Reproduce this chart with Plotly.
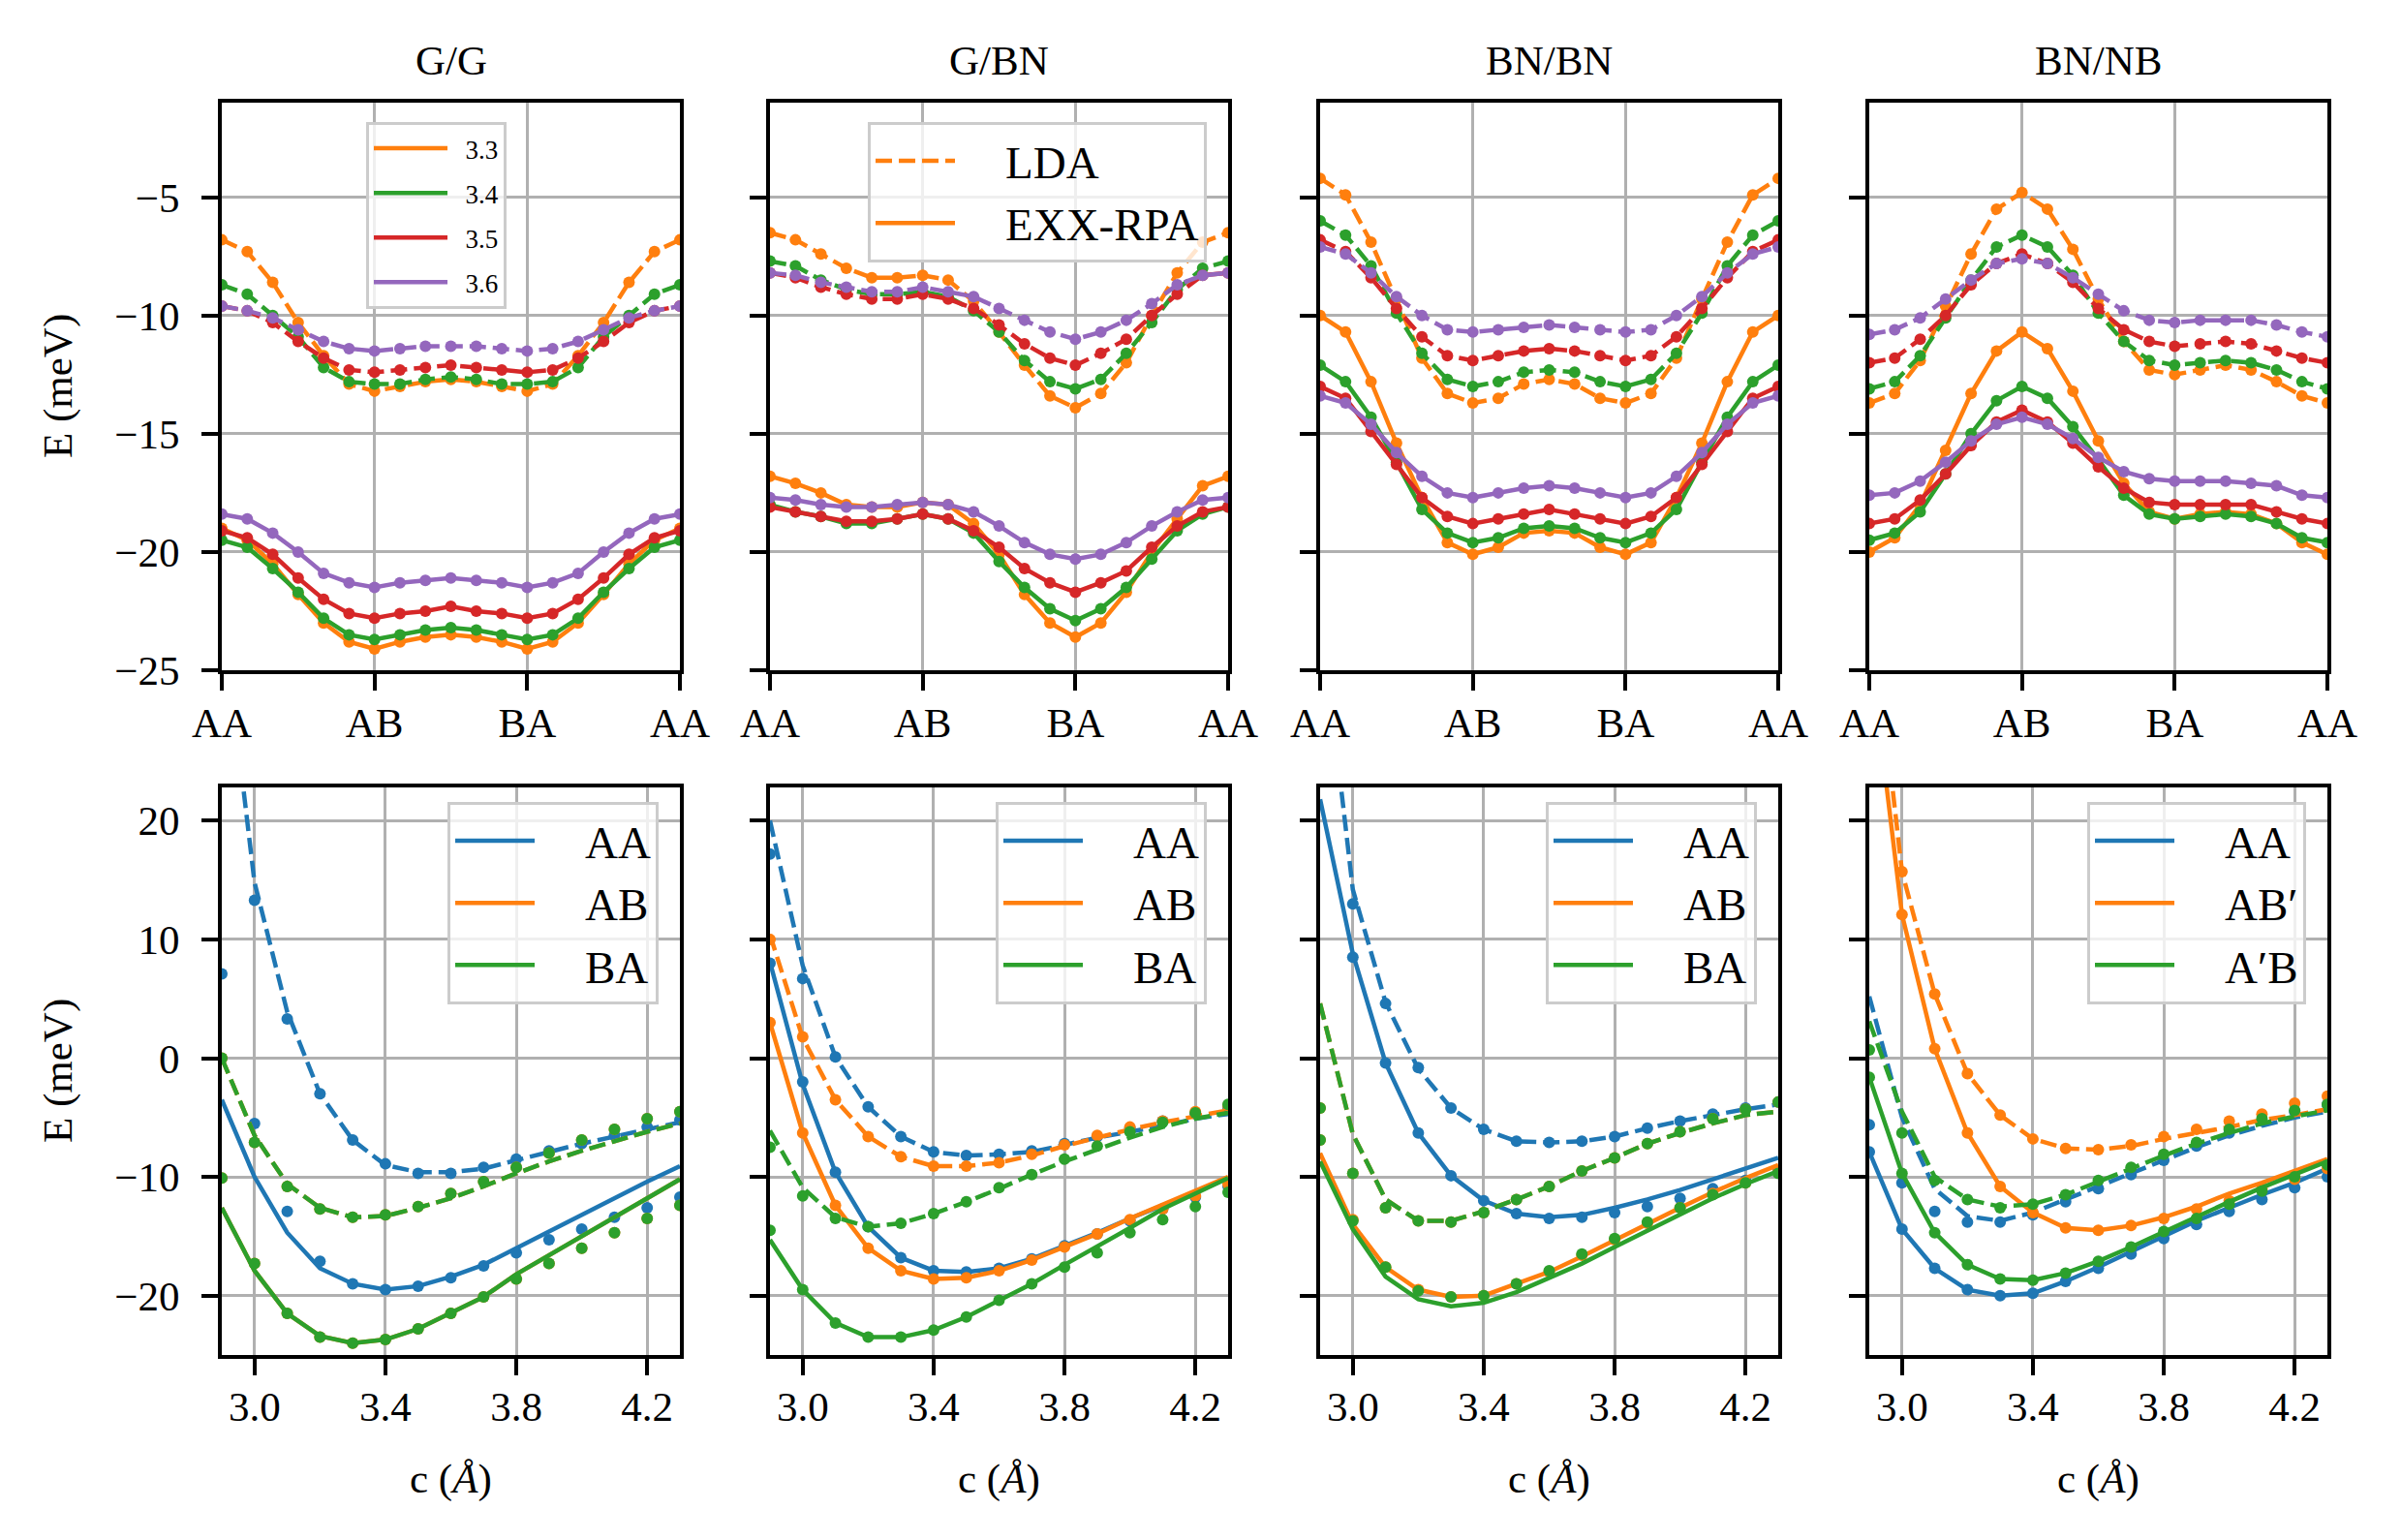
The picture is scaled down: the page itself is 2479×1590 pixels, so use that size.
import plotly.graph_objects as go

# ---------------- data ----------------
path_x = list(range(19))
path_tickvals = [0, 6, 12, 18]
path_ticktext = ["AA", "AB", "BA", "AA"]
c_vals = [2.9, 3.0, 3.1, 3.2, 3.3, 3.4, 3.5, 3.6, 3.7, 3.8, 3.9, 4.0, 4.1, 4.2, 4.3]
c_labels = ["3.3", "3.4", "3.5", "3.6"]
panel_titles = ["G/G", "G/BN", "BN/BN", "BN/NB"]

# top row: G/G
GG_LDA_33 = [-6.8,-7.3,-8.6,-10.3,-11.7,-12.9,-13.2,-13.0,-12.8,-12.7,-12.8,-13.0,-13.2,-12.9,-11.7,-10.3,-8.6,-7.3,-6.8]
GG_LDA_34 = [-8.7,-9.1,-10.0,-10.9,-12.2,-12.8,-12.9,-12.9,-12.7,-12.6,-12.7,-12.9,-12.9,-12.8,-12.2,-10.9,-10.0,-9.1,-8.7]
GG_LDA_35 = [-9.6,-9.8,-10.3,-11.1,-11.8,-12.3,-12.4,-12.3,-12.2,-12.1,-12.2,-12.3,-12.4,-12.3,-11.8,-11.1,-10.3,-9.8,-9.6]
GG_LDA_36 = [-9.6,-9.8,-10.1,-10.6,-11.1,-11.4,-11.5,-11.4,-11.3,-11.3,-11.3,-11.4,-11.5,-11.4,-11.1,-10.6,-10.1,-9.8,-9.6]
GG_RPA_33 = [-19.0,-19.5,-20.5,-21.8,-23.0,-23.8,-24.1,-23.8,-23.6,-23.5,-23.6,-23.8,-24.1,-23.8,-23.0,-21.8,-20.5,-19.5,-19.0]
GG_RPA_34 = [-19.5,-19.8,-20.7,-21.7,-22.8,-23.5,-23.7,-23.5,-23.3,-23.2,-23.3,-23.5,-23.7,-23.5,-22.8,-21.7,-20.7,-19.8,-19.5]
GG_RPA_35 = [-19.1,-19.4,-20.1,-21.1,-22.0,-22.6,-22.8,-22.6,-22.5,-22.3,-22.5,-22.6,-22.8,-22.6,-22.0,-21.1,-20.1,-19.4,-19.1]
GG_RPA_36 = [-18.4,-18.6,-19.2,-20.0,-20.9,-21.3,-21.5,-21.3,-21.2,-21.1,-21.2,-21.3,-21.5,-21.3,-20.9,-20.0,-19.2,-18.6,-18.4]

# top row: G/BN
GBN_LDA_33 = [-6.5,-6.8,-7.4,-8.0,-8.4,-8.4,-8.3,-8.5,-9.4,-10.7,-12.1,-13.4,-13.9,-13.3,-12.0,-10.0,-8.2,-6.9,-6.5]
GBN_LDA_34 = [-7.7,-7.9,-8.5,-8.9,-9.1,-9.1,-9.0,-9.2,-9.8,-10.7,-11.9,-12.8,-13.1,-12.7,-11.6,-10.3,-8.9,-8.0,-7.7]
GBN_LDA_35 = [-8.2,-8.4,-8.8,-9.1,-9.3,-9.3,-9.1,-9.3,-9.7,-10.4,-11.2,-11.8,-12.1,-11.6,-11.0,-10.0,-9.1,-8.3,-8.2]
GBN_LDA_36 = [-8.2,-8.3,-8.6,-8.8,-9.0,-9.0,-8.8,-9.0,-9.2,-9.7,-10.2,-10.7,-11.0,-10.7,-10.2,-9.5,-8.7,-8.3,-8.2]
GBN_RPA_33 = [-16.8,-17.1,-17.5,-18.0,-18.1,-18.1,-17.9,-18.0,-18.8,-20.1,-21.8,-23.0,-23.6,-23.0,-21.7,-20.0,-18.6,-17.2,-16.8]
GBN_RPA_34 = [-18.0,-18.3,-18.5,-18.8,-18.8,-18.6,-18.4,-18.6,-19.2,-20.4,-21.5,-22.4,-22.9,-22.4,-21.5,-20.3,-19.1,-18.4,-18.1]
GBN_RPA_35 = [-18.1,-18.3,-18.5,-18.7,-18.7,-18.6,-18.4,-18.6,-19.1,-19.8,-20.7,-21.3,-21.7,-21.3,-20.8,-19.8,-18.9,-18.3,-18.1]
GBN_RPA_36 = [-17.7,-17.8,-18.0,-18.1,-18.1,-18.0,-17.9,-18.0,-18.3,-18.9,-19.6,-20.1,-20.3,-20.1,-19.6,-18.9,-18.3,-17.8,-17.7]

# top row: BN/BN
BB_LDA_33 = [-4.2,-4.9,-6.9,-9.3,-11.8,-13.3,-13.7,-13.5,-12.9,-12.7,-12.9,-13.5,-13.7,-13.3,-11.8,-9.3,-6.9,-4.9,-4.2]
BB_LDA_34 = [-6.0,-6.6,-7.9,-9.9,-11.6,-12.7,-13.0,-12.8,-12.4,-12.3,-12.4,-12.8,-13.0,-12.7,-11.6,-9.9,-7.9,-6.6,-6.0]
BB_LDA_35 = [-6.8,-7.3,-8.4,-9.7,-10.9,-11.7,-11.9,-11.7,-11.5,-11.4,-11.5,-11.7,-11.9,-11.7,-10.9,-9.7,-8.4,-7.3,-6.8]
BB_LDA_36 = [-7.1,-7.4,-8.2,-9.2,-10.0,-10.6,-10.7,-10.6,-10.5,-10.4,-10.5,-10.6,-10.7,-10.6,-10.0,-9.2,-8.2,-7.4,-7.1]
BB_RPA_33 = [-10.0,-10.7,-12.8,-15.4,-17.7,-19.6,-20.1,-19.8,-19.2,-19.1,-19.2,-19.8,-20.1,-19.6,-17.7,-15.4,-12.8,-10.7,-10.0]
BB_RPA_34 = [-12.1,-12.8,-14.3,-16.2,-18.2,-19.2,-19.6,-19.4,-19.0,-18.9,-19.0,-19.4,-19.6,-19.2,-18.2,-16.2,-14.3,-12.8,-12.1]
BB_RPA_35 = [-13.0,-13.5,-14.9,-16.3,-17.7,-18.5,-18.8,-18.6,-18.4,-18.2,-18.4,-18.6,-18.8,-18.5,-17.7,-16.3,-14.9,-13.5,-13.0]
BB_RPA_36 = [-13.4,-13.7,-14.6,-15.8,-16.8,-17.5,-17.7,-17.5,-17.3,-17.2,-17.3,-17.5,-17.7,-17.5,-16.8,-15.8,-14.6,-13.7,-13.4]

# top row: BN/NB
BNB_LDA_33 = [-13.7,-13.3,-11.9,-9.6,-7.4,-5.5,-4.8,-5.5,-7.2,-9.3,-11.1,-12.3,-12.5,-12.3,-12.1,-12.3,-12.8,-13.4,-13.7]
BNB_LDA_34 = [-13.1,-12.8,-11.7,-10.1,-8.5,-7.1,-6.6,-7.1,-8.3,-9.9,-11.1,-11.9,-12.1,-12.0,-11.9,-12.0,-12.3,-12.8,-13.1]
BNB_LDA_35 = [-12.0,-11.8,-11.0,-10.0,-8.7,-7.8,-7.4,-7.8,-8.6,-9.7,-10.6,-11.1,-11.3,-11.2,-11.1,-11.2,-11.5,-11.8,-12.0]
BNB_LDA_36 = [-10.8,-10.6,-10.1,-9.3,-8.5,-7.8,-7.6,-7.8,-8.4,-9.1,-9.8,-10.2,-10.3,-10.2,-10.2,-10.2,-10.4,-10.7,-10.9]
BNB_RPA_33 = [-20.0,-19.4,-18.0,-15.7,-13.3,-11.5,-10.7,-11.4,-13.2,-15.3,-17.1,-18.3,-18.6,-18.4,-18.3,-18.4,-18.8,-19.6,-20.1]
BNB_RPA_34 = [-19.5,-19.2,-18.3,-16.7,-15.0,-13.6,-13.0,-13.5,-14.7,-16.1,-17.6,-18.4,-18.6,-18.5,-18.4,-18.5,-18.8,-19.4,-19.6]
BNB_RPA_35 = [-18.8,-18.6,-17.8,-16.7,-15.5,-14.5,-14.0,-14.5,-15.4,-16.4,-17.3,-17.9,-18.0,-18.0,-18.0,-18.0,-18.3,-18.6,-18.8]
BNB_RPA_36 = [-17.6,-17.5,-17.0,-16.2,-15.3,-14.6,-14.3,-14.6,-15.2,-16.0,-16.6,-16.9,-17.0,-17.0,-17.0,-17.1,-17.2,-17.6,-17.7]

# bottom row: G/G  (AB identical to BA)
GG_AA_LDA_line = [38.0, 14.8, 3.9, -3.0, -6.9, -9.0, -9.6, -9.6, -9.3, -8.6, -7.9, -7.2, -6.6, -6.0, -5.4]
GG_AA_LDA_dots = [45.0, 13.3, 3.3, -3.0, -6.9, -8.9, -9.7, -9.7, -9.2, -8.5, -7.8, -7.2, -6.5, -5.8, -5.2]
GG_BA_LDA_line = [0.0, -6.5, -10.6, -12.6, -13.4, -13.3, -12.6, -11.8, -10.8, -9.7, -8.7, -7.8, -7.0, -6.2, -5.5]
GG_BA_LDA_dots = [0.0, -7.1, -10.8, -12.7, -13.4, -13.2, -12.5, -11.4, -10.4, -9.2, -8.0, -6.9, -6.0, -5.1, -4.5]
GG_AA_RPA_line = [-3.5, -10.0, -14.7, -17.7, -19.0, -19.5, -19.2, -18.4, -17.4, -16.0, -14.5, -13.1, -11.7, -10.4, -9.1]
GG_AA_RPA_dots = [7.1, -5.5, -12.9, -17.1, -19.0, -19.5, -19.2, -18.5, -17.5, -16.4, -15.3, -14.4, -13.4, -12.6, -11.7]
GG_BA_RPA_line = [-12.6, -17.9, -21.5, -23.4, -24.0, -23.7, -22.8, -21.5, -20.1, -18.2, -16.6, -14.9, -13.3, -11.8, -10.2]
GG_BA_RPA_dots = [-10.1, -17.3, -21.5, -23.5, -24.0, -23.7, -22.8, -21.5, -20.1, -18.6, -17.3, -16.0, -14.7, -13.5, -12.4]
GG_AB_LDA_line = GG_BA_LDA_line
GG_AB_LDA_dots = GG_BA_LDA_dots
GG_AB_RPA_line = GG_BA_RPA_line
GG_AB_RPA_dots = GG_BA_RPA_dots

# bottom row: G/BN
GBN_AA_LDA_line = [20.0, 7.8, 0.1, -4.1, -6.6, -7.9, -8.2, -8.1, -7.9, -7.3, -6.7, -6.2, -5.7, -5.1, -4.7]
GBN_AA_LDA_dots = [17.2, 6.7, 0.1, -4.1, -6.6, -7.9, -8.2, -8.1, -7.8, -7.2, -6.6, -5.9, -5.3, -4.7, -4.2]
GBN_AB_LDA_line = [10.4, 1.7, -3.5, -6.6, -8.3, -9.1, -9.1, -8.8, -8.2, -7.4, -6.7, -6.0, -5.4, -4.9, -4.4]
GBN_AB_LDA_dots = [10.0, 1.8, -3.5, -6.6, -8.3, -9.1, -9.1, -8.8, -8.1, -7.3, -6.5, -5.8, -5.3, -4.5, -4.0]
GBN_BA_LDA_line = [-6.1, -10.9, -13.4, -14.2, -13.9, -13.1, -12.1, -11.0, -9.8, -8.7, -7.7, -6.7, -5.8, -5.1, -4.6]
GBN_BA_LDA_dots = [-7.5, -11.6, -13.5, -14.2, -13.9, -13.1, -12.1, -10.9, -9.8, -8.5, -7.4, -6.2, -5.4, -4.6, -3.9]
GBN_AA_RPA_line = [8.1, -2.2, -9.6, -14.2, -16.8, -17.9, -18.0, -17.7, -16.9, -15.8, -14.7, -13.5, -12.4, -11.3, -10.1]
GBN_AA_RPA_dots = [8.0, -2.0, -9.6, -14.2, -16.8, -17.9, -18.0, -17.7, -16.9, -15.8, -14.8, -13.7, -12.7, -11.7, -10.8]
GBN_AB_RPA_line = [3.0, -6.3, -12.4, -16.0, -17.9, -18.6, -18.5, -17.9, -17.0, -15.9, -14.8, -13.5, -12.3, -11.2, -10.0]
GBN_AB_RPA_dots = [3.0, -6.3, -12.4, -16.0, -17.9, -18.6, -18.5, -17.9, -17.0, -15.9, -14.8, -13.6, -12.7, -11.6, -10.6]
GBN_BA_RPA_line = [-15.3, -19.5, -22.3, -23.5, -23.5, -22.9, -21.8, -20.4, -19.0, -17.4, -15.9, -14.3, -12.7, -11.4, -10.1]
GBN_BA_RPA_dots = [-14.5, -19.5, -22.3, -23.5, -23.5, -22.9, -21.8, -20.4, -19.0, -17.6, -16.4, -14.7, -13.6, -12.5, -11.3]

# bottom row: BN/BN  (AB LDA identical to BA LDA)
BB_AA_LDA_line = [38.0, 14.2, 4.7, -0.9, -4.2, -6.0, -7.0, -7.1, -7.0, -6.6, -5.9, -5.3, -4.8, -4.3, -3.9]
BB_AA_LDA_dots = [40.0, 13.0, 4.6, -0.8, -4.2, -6.0, -7.0, -7.1, -7.0, -6.6, -5.9, -5.3, -4.7, -4.2, -3.7]
BB_BA_LDA_line = [4.6, -6.4, -11.9, -13.7, -13.7, -12.9, -11.9, -10.8, -9.5, -8.4, -7.2, -6.3, -5.5, -4.8, -4.5]
BB_BA_LDA_dots = [-4.2, -9.7, -12.6, -13.7, -13.8, -13.0, -11.9, -10.8, -9.5, -8.4, -7.2, -6.2, -5.1, -4.3, -3.7]
BB_AB_LDA_line = BB_BA_LDA_line
BB_AB_LDA_dots = BB_BA_LDA_dots
BB_AA_RPA_line = [21.8, 8.8, -0.4, -6.3, -9.9, -12.0, -13.1, -13.4, -13.2, -12.6, -11.9, -11.1, -10.2, -9.3, -8.4]
BB_AA_RPA_dots = [24.0, 8.5, -0.4, -6.3, -9.9, -12.0, -13.1, -13.5, -13.4, -13.0, -12.5, -11.8, -11.0, -10.3, -9.5]
BB_AB_RPA_line = [-8.0, -14.0, -17.6, -19.5, -20.1, -20.0, -19.0, -18.0, -16.7, -15.3, -13.9, -12.6, -11.3, -10.1, -9.0]
BB_AB_RPA_dots = [-6.9, -13.6, -17.6, -19.5, -20.1, -20.0, -19.0, -18.0, -16.6, -15.3, -13.9, -12.6, -11.4, -10.5, -9.6]
BB_BA_RPA_line = [-8.7, -14.4, -18.4, -20.3, -20.9, -20.6, -19.7, -18.5, -17.3, -15.9, -14.5, -13.2, -11.8, -10.6, -9.5]
BB_BA_RPA_dots = [-6.9, -13.7, -17.6, -19.6, -20.1, -20.0, -19.0, -17.9, -16.5, -15.2, -13.8, -12.6, -11.5, -10.5, -9.7]

# bottom row: BN/NB
BNB_AA_LDA_line = [5.2, -5.0, -11.0, -13.3, -13.7, -13.0, -11.9, -10.8, -9.7, -8.6, -7.5, -6.5, -5.7, -5.0, -4.5]
BNB_AA_LDA_dots = [-5.6, -10.5, -12.9, -13.8, -13.8, -13.2, -12.1, -11.0, -9.8, -8.6, -7.4, -6.3, -5.3, -4.5, -3.9]
BNB_AB_LDA_line = [40.0, 15.7, 5.4, -1.3, -4.8, -6.8, -7.6, -7.7, -7.4, -6.8, -6.3, -5.8, -5.2, -4.8, -4.3]
BNB_AB_LDA_dots = [40.0, 15.7, 5.4, -1.3, -4.8, -6.8, -7.6, -7.7, -7.3, -6.6, -6.0, -5.3, -4.7, -3.8, -3.2]
BNB_BA_LDA_line = [3.1, -4.5, -10.0, -11.9, -12.5, -12.3, -11.5, -10.4, -9.3, -8.2, -7.2, -6.3, -5.5, -4.9, -4.4]
BNB_BA_LDA_dots = [0.7, -6.3, -10.3, -11.9, -12.6, -12.3, -11.5, -10.3, -9.2, -8.1, -7.1, -6.0, -5.1, -4.4, -3.9]
BNB_AA_RPA_line = [-7.9, -14.4, -17.7, -19.5, -20.0, -19.8, -18.8, -17.6, -16.3, -15.0, -13.7, -12.6, -11.5, -10.5, -9.3]
BNB_AA_RPA_dots = [-7.9, -14.4, -17.7, -19.5, -20.0, -19.8, -18.8, -17.7, -16.5, -15.2, -14.0, -12.9, -11.9, -10.9, -10.0]
BNB_AB_RPA_line = [35.0, 12.1, 0.8, -6.3, -10.8, -13.0, -14.3, -14.5, -14.1, -13.4, -12.5, -11.4, -10.5, -9.5, -8.5]
BNB_AB_RPA_dots = [35.0, 12.1, 0.8, -6.3, -10.8, -13.0, -14.3, -14.5, -14.1, -13.5, -12.7, -12.0, -11.0, -10.2, -9.3]
BNB_BA_RPA_line = [-1.6, -9.7, -14.7, -17.4, -18.6, -18.7, -18.1, -17.1, -15.9, -14.6, -13.4, -12.1, -10.9, -9.8, -8.7]
BNB_BA_RPA_dots = [-1.6, -9.7, -14.7, -17.4, -18.6, -18.7, -18.1, -17.1, -15.9, -14.6, -13.5, -12.3, -11.2, -10.0, -9.0]

top_yticks = [-25, -20, -15, -10, -5]
top_yticktext = ["\u221225", "\u221220", "\u221215", "\u221210", "\u22125"]
bot_xticks = [3.0, 3.4, 3.8, 4.2]
bot_xticktext = ["3.0", "3.4", "3.8", "4.2"]
bot_yticks = [-20, -10, 0, 10, 20]
bot_yticktext = ["\u221220", "\u221210", "0", "10", "20"]

# ---------------- style ----------------
BLUE, ORANGE, GREEN, RED, PURPLE = "#1f77b4", "#ff7f0e", "#2ca02c", "#d62728", "#9467bd"
c_colors = [ORANGE, GREEN, RED, PURPLE]
FONT = "Liberation Serif, DejaVu Serif, serif"
PAGE_W, PAGE_H = 2479, 1590
OFF = 8                       # default page margin around the plot div
W, H = PAGE_W - 2 * OFF, PAGE_H - 2 * OFF
LW = 4.5
MS = 12
DASH = "17px,7px"
FS = 43
LEG_FS = 47
PAD_BIG = "\u2003"      # spacing between legend handle and label (matplotlib handletextpad)
PAD_SMALL = "\u2002"

def fx(px):
    return (px - OFF) / W

def fy(py):
    return 1 - (py - OFF) / H

col_px = [(229, 702), (795, 1268), (1363, 1836), (1930, 2403)]
top_px = (106, 692)
bot_px = (813, 1399)

top_sets = [
    [GG_LDA_33, GG_LDA_34, GG_LDA_35, GG_LDA_36], [GG_RPA_33, GG_RPA_34, GG_RPA_35, GG_RPA_36],
    [GBN_LDA_33, GBN_LDA_34, GBN_LDA_35, GBN_LDA_36], [GBN_RPA_33, GBN_RPA_34, GBN_RPA_35, GBN_RPA_36],
    [BB_LDA_33, BB_LDA_34, BB_LDA_35, BB_LDA_36], [BB_RPA_33, BB_RPA_34, BB_RPA_35, BB_RPA_36],
    [BNB_LDA_33, BNB_LDA_34, BNB_LDA_35, BNB_LDA_36], [BNB_RPA_33, BNB_RPA_34, BNB_RPA_35, BNB_RPA_36],
]

bot_sets = [
    [("AA", BLUE, GG_AA_LDA_line, GG_AA_LDA_dots, GG_AA_RPA_line, GG_AA_RPA_dots),
     ("AB", ORANGE, GG_AB_LDA_line, GG_AB_LDA_dots, GG_AB_RPA_line, GG_AB_RPA_dots),
     ("BA", GREEN, GG_BA_LDA_line, GG_BA_LDA_dots, GG_BA_RPA_line, GG_BA_RPA_dots)],
    [("AA", BLUE, GBN_AA_LDA_line, GBN_AA_LDA_dots, GBN_AA_RPA_line, GBN_AA_RPA_dots),
     ("AB", ORANGE, GBN_AB_LDA_line, GBN_AB_LDA_dots, GBN_AB_RPA_line, GBN_AB_RPA_dots),
     ("BA", GREEN, GBN_BA_LDA_line, GBN_BA_LDA_dots, GBN_BA_RPA_line, GBN_BA_RPA_dots)],
    [("AA", BLUE, BB_AA_LDA_line, BB_AA_LDA_dots, BB_AA_RPA_line, BB_AA_RPA_dots),
     ("AB", ORANGE, BB_AB_LDA_line, BB_AB_LDA_dots, BB_AB_RPA_line, BB_AB_RPA_dots),
     ("BA", GREEN, BB_BA_LDA_line, BB_BA_LDA_dots, BB_BA_RPA_line, BB_BA_RPA_dots)],
    [("AA", BLUE, BNB_AA_LDA_line, BNB_AA_LDA_dots, BNB_AA_RPA_line, BNB_AA_RPA_dots),
     ("AB\u2032", ORANGE, BNB_AB_LDA_line, BNB_AB_LDA_dots, BNB_AB_RPA_line, BNB_AB_RPA_dots),
     ("A\u2032B", GREEN, BNB_BA_LDA_line, BNB_BA_LDA_dots, BNB_BA_RPA_line, BNB_BA_RPA_dots)],
]

fig = go.Figure()

def axname(n, kind):
    return kind if n == 1 else f"{kind}{n}"

# top row traces
for k in range(4):
    n = k + 1
    lda_list = top_sets[2 * k]
    rpa_list = top_sets[2 * k + 1]
    for j in range(4):
        col = c_colors[j]
        lda_name, rpa_name, leg, show_l, show_r = None, None, None, False, False
        if k == 0:
            rpa_name, show_r, leg = PAD_SMALL + c_labels[j], True, "legend"
        if k == 1 and j == 0:
            lda_name, rpa_name, show_l, show_r, leg = PAD_BIG + "LDA", PAD_BIG + "EXX-RPA", True, True, "legend2"
        for vals, dash, nm, sh in ((lda_list[j], DASH, lda_name, show_l), (rpa_list[j], "solid", rpa_name, show_r)):
            fig.add_trace(go.Scatter(
                x=path_x, y=vals, mode="lines", name=nm, showlegend=sh,
                legend=leg if sh else None, legendgroup=(f"g{k}{nm}" if sh else None),
                line=dict(color=col, width=LW, dash=dash),
                xaxis=axname(n, "x"), yaxis=axname(n, "y"), hoverinfo="skip"))
            fig.add_trace(go.Scatter(
                x=path_x, y=vals, mode="markers", showlegend=False,
                marker=dict(color=col, size=MS, line=dict(width=0)),
                xaxis=axname(n, "x"), yaxis=axname(n, "y"), hoverinfo="skip"))

# bottom row traces
for k in range(4):
    n = k + 5
    leg = f"legend{k + 3}"
    for (nm, col, lda_l, lda_d, rpa_l, rpa_d) in bot_sets[k]:
        fig.add_trace(go.Scatter(
            x=c_vals, y=lda_l, mode="lines", showlegend=False,
            line=dict(color=col, width=LW, dash=DASH),
            xaxis=axname(n, "x"), yaxis=axname(n, "y"), hoverinfo="skip"))
        fig.add_trace(go.Scatter(
            x=c_vals, y=rpa_l, mode="lines", name=PAD_BIG + nm, showlegend=True, legend=leg,
            line=dict(color=col, width=LW),
            xaxis=axname(n, "x"), yaxis=axname(n, "y"), hoverinfo="skip"))
        for d in (lda_d, rpa_d):
            fig.add_trace(go.Scatter(
                x=c_vals, y=d, mode="markers", showlegend=False,
                marker=dict(color=col, size=MS, line=dict(width=0)),
                xaxis=axname(n, "x"), yaxis=axname(n, "y"), hoverinfo="skip"))

# ---------------- axes ----------------
def base_axis(standoff):
    return dict(showline=True, mirror=True, linecolor="black", linewidth=4,
                ticks="outside", ticklen=17, tickwidth=4, tickcolor="black",
                showgrid=True, gridcolor="#b0b0b0", gridwidth=3, zeroline=False,
                automargin=False, ticklabelstandoff=standoff,
                tickfont=dict(family=FONT, size=FS, color="black"))

layout_axes = {}
for k in range(4):
    x0, x1 = col_px[k]
    xd = [fx(x0), fx(x1)]
    n = k + 1
    xa = base_axis(-4)
    xa.update(domain=xd, range=[0, 18], tickmode="array", tickvals=path_tickvals,
              ticktext=path_ticktext, anchor=axname(n, "y"))
    ya = base_axis(14)
    ya.update(domain=[fy(top_px[1]), fy(top_px[0])], range=[-25, -1],
              tickmode="array", tickvals=top_yticks, ticktext=top_yticktext,
              showticklabels=(k == 0), anchor=axname(n, "x"))
    layout_axes["xaxis" if n == 1 else f"xaxis{n}"] = xa
    layout_axes["yaxis" if n == 1 else f"yaxis{n}"] = ya
    n = k + 5
    xa = base_axis(-5)
    xa.update(domain=xd, range=[2.9, 4.3], tickmode="array", tickvals=bot_xticks,
              ticktext=bot_xticktext, anchor=f"y{n}")
    ya = base_axis(14)
    ya.update(domain=[fy(bot_px[1]), fy(bot_px[0])], range=[-25, 22.8],
              tickmode="array", tickvals=bot_yticks, ticktext=bot_yticktext,
              showticklabels=(k == 0), anchor=f"x{n}")
    layout_axes[f"xaxis{n}"] = xa
    layout_axes[f"yaxis{n}"] = ya

annotations = []
for k in range(4):
    xc = fx((col_px[k][0] + col_px[k][1]) / 2)
    annotations.append(dict(text=panel_titles[k], x=xc, y=fy(63), xref="paper", yref="paper",
                            showarrow=False, xanchor="center", yanchor="middle",
                            font=dict(family=FONT, size=FS, color="black")))
    annotations.append(dict(text="c (<i>\u00c5</i>)", x=xc, y=fy(1527), xref="paper", yref="paper",
                            showarrow=False, xanchor="center", yanchor="middle",
                            font=dict(family=FONT, size=FS, color="black")))
for yc in ((top_px[0] + top_px[1]) / 2, (bot_px[0] + bot_px[1]) / 2):
    annotations.append(dict(text="E (meV)", x=fx(60), y=fy(yc), xref="paper", yref="paper",
                            showarrow=False, textangle=-90, xanchor="center", yanchor="middle",
                            font=dict(family=FONT, size=FS, color="black")))

def legend_box(x, y, xanchor, size, iw, gap):
    return dict(x=x, y=y, xanchor=xanchor, yanchor="top", xref="paper", yref="paper",
                bgcolor="rgba(255,255,255,0.8)", bordercolor="#cccccc", borderwidth=3,
                font=dict(family=FONT, size=size, color="black"), tracegroupgap=gap,
                itemwidth=iw, itemclick=False, itemdoubleclick=False)

legends = {
    "legend": legend_box(fx(378), fy(126), "left", 27, 76, 8),
    "legend2": legend_box(fx(col_px[1][1] - 22), fy(126), "right", LEG_FS, 82, 0),
}
for k in range(4):
    legends[f"legend{k + 3}"] = legend_box(fx(col_px[k][1] - 22), fy(828), "right", LEG_FS, 82, 0)

fig.update_layout(
    template="none",
    width=W, height=H, margin=dict(l=0, r=0, t=0, b=0, autoexpand=False),
    paper_bgcolor="white", plot_bgcolor="white",
    font=dict(family=FONT, size=FS, color="black"),
    annotations=annotations, **layout_axes, **legends,
)

fig.write_html("out.html")
